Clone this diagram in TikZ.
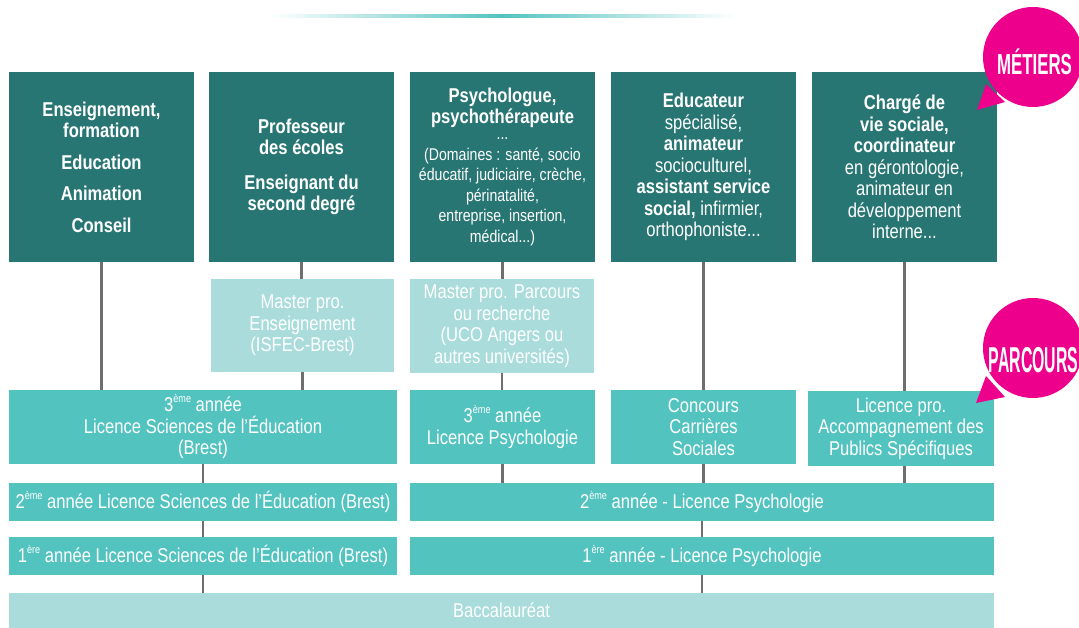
\documentclass[tikz,border=0pt]{standalone}
\usepackage{fontspec}
\setmainfont{Liberation Sans}[FakeStretch=0.83]
\newfontfamily\bubblefont{Liberation Sans}
\definecolor{dark}{HTML}{287673}
\definecolor{mid}{HTML}{53C3C0}
\definecolor{light}{HTML}{A9DCDB}
\definecolor{pink}{HTML}{EC008C}
\definecolor{conn}{HTML}{6E6E6E}
\newcommand\expo[1]{\raisebox{0.45em}{\fontsize{11}{11}\selectfont #1}}
\begin{document}
\begin{tikzpicture}[x=1pt,y=-1pt,
  box/.style={inner sep=0pt, text=white, align=center, font=\fontsize{20}{21.5}\selectfont},
  topbox/.style={box, fill=dark, minimum width=185pt, minimum height=190pt},
  master/.style={box, fill=light, minimum height=93pt},
  midbox/.style={box, fill=mid},
  link/.style={draw=conn, line width=2.2pt},
  bubble/.style={fill=pink, draw=none},
  bubbletext/.style={text=white, inner sep=0pt, anchor=base, font=\bubblefont\bfseries}]
\useasboundingbox (0,0) rectangle (1079,628);

% top gradient line
\shade[left color=white, right color=white, middle color=mid] (270,14.8) rectangle (735,17.6);

% top row (metiers)
\node[topbox] (t1) at (101.5,167) {\bfseries Enseignement,\\ \bfseries formation\\[10pt] \bfseries Education\\[10pt] \bfseries Animation\\[10pt] \bfseries Conseil};
\node[topbox] (t2) at (301.5,167) {\bfseries Professeur\\ \bfseries des écoles\\[13pt] \bfseries Enseignant du\\ \bfseries second degré};
\node[topbox, font=\fontsize{17}{20.5}\selectfont] (t3) at (502.5,167) {{\fontsize{20}{21}\selectfont\bfseries Psychologue,}\\ {\fontsize{20}{21}\selectfont\bfseries psychothérapeute}\\[-4pt] ...\\ (Domaines : santé, socio\\ éducatif, judiciaire, crèche,\\ périnatalité,\\ entreprise, insertion,\\ médical...)};
\node[topbox] (t4) at (703.5,167) {\textbf{Educateur}\\ spécialisé,\\ \textbf{animateur}\\ socioculturel,\\ \textbf{assistant service}\\ \textbf{social,} infirmier,\\ orthophoniste...};
\node[topbox] (t5) at (904.5,167) {\textbf{Chargé de}\\ \textbf{vie sociale,}\\ \textbf{coordinateur}\\ en gérontologie,\\ animateur en\\ développement\\ interne...};

% masters
\node[master, minimum width=183pt] (m1) at (302.5,325.5) {Master pro.\\ Enseignement\\ (ISFEC-Brest)};
\node[master, minimum width=184pt, minimum height=94pt] (m2) at (502,326) {Master pro. Parcours\\ ou recherche\\ (UCO Angers ou\\ autres universités)};

% third year row
\node[midbox, minimum width=388pt, minimum height=74pt] (l3) at (203,427) {3\expo{ème} année\\ Licence Sciences de l’Éducation\\ (Brest)};
\node[midbox, minimum width=185pt, minimum height=74pt] (p3) at (502.5,427) {3\expo{ème} année\\ Licence Psychologie};
\node[midbox, minimum width=185pt, minimum height=74pt] (cc) at (703.5,427) {Concours\\ Carrières\\ Sociales};
\node[midbox, minimum width=186pt, minimum height=75pt] (lp) at (901,428.5) {Licence pro.\\ Accompagnement des\\ Publics Spécifiques};

% second year row
\node[midbox, minimum width=388pt, minimum height=38pt] (l2) at (203,502) {2\expo{ème} année Licence Sciences de l’Éducation (Brest)};
\node[midbox, minimum width=584pt, minimum height=38pt] (p2) at (702,502) {2\expo{ème} année - Licence Psychologie};

% first year row
\node[midbox, minimum width=388pt, minimum height=38pt] (l1) at (203,556) {1\expo{ère} année Licence Sciences de l’Éducation (Brest)};
\node[midbox, minimum width=584pt, minimum height=38pt] (p1) at (702,556) {1\expo{ère} année - Licence Psychologie};

% bac
\node[box, fill=light, minimum width=985pt, minimum height=35pt] (bac) at (501.5,610.5) {Baccalauréat};

% connectors
\draw[link] (t1.south) -- (t1.south |- l3.north);
\draw[link] (t2.south) -- (t2.south |- m1.north);
\draw[link] (m1.south) -- (m1.south |- l3.north);
\draw[link] (t3.south) -- (t3.south |- m2.north);
\draw[link] (m2.south) -- (m2.south |- p3.north);
\draw[link] (t4.south) -- (t4.south |- cc.north);
\draw[link] (t5.south) -- (t5.south |- lp.north);
\draw[link] (l3.south) -- (l2.north);
\draw[link] (p3.south) -- (p3.south |- p2.north);
\draw[link] (cc.south) -- (cc.south |- p2.north);
\draw[link] (t5.south |- lp.south) -- (t5.south |- p2.north);
\draw[link] (l2.south) -- (l1.north);
\draw[link] (p2.south) -- (p1.north);
\draw[link] (l1.south) -- (l1.south |- bac.north);
\draw[link] (p1.south) -- (p1.south |- bac.north);

% bubbles
\fill[bubble] (977,110) -- (986,84) -- (1005,102) -- cycle;
\fill[bubble] (1033,57) circle (50);
\node[bubbletext] (metiers) at (1034.5,75) {\scalebox{0.58}[1]{\fontsize{29}{29}\selectfont MÉTIERS}};
\fill[bubble] (976,403) -- (986,376) -- (1005,397) -- cycle;
\fill[bubble] (1033,348) circle (50);
\node[bubbletext] (parcours) at (1033.5,372) {\scalebox{0.44}[1]{\fontsize{36}{36}\selectfont PARCOURS}};
\end{tikzpicture}
\end{document}
